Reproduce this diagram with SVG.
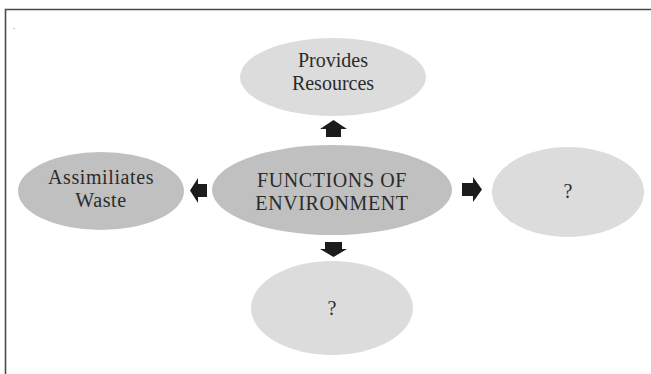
<svg xmlns="http://www.w3.org/2000/svg" width="651" height="374" viewBox="0 0 651 374">
<style>
.light{fill:#dcdcdc}
.dark{fill:#c0c0c0}
.lbl{font-family:"Liberation Serif","Times New Roman",serif;font-size:20px;fill:#2b2b2b;text-anchor:middle}
.wide{letter-spacing:0.6px}
.arr{fill:#1c1c1c}
.frame{stroke:#4a4a4a;stroke-width:1.6;fill:none}
</style>
<rect width="651" height="374" fill="#ffffff"/>
<path class="frame" d="M5.5,374 V9.5 H651"/>
<text x="13" y="29" style="font-family:'Liberation Serif',serif;font-size:8px;fill:#333">.</text>
<g id="provides">
<ellipse class="light" cx="333" cy="77" rx="93" ry="39"/>
<text class="lbl" x="333" y="67">Provides</text>
<text class="lbl" x="333" y="89.5">Resources</text>
</g>
<g id="center">
<ellipse class="dark" cx="332" cy="190" rx="120" ry="45"/>
<text class="lbl wide" x="332" y="187">FUNCTIONS OF</text>
<text class="lbl wide" x="332" y="209.5">ENVIRONMENT</text>
</g>
<g id="assimilates">
<ellipse class="dark" cx="101" cy="191" rx="83" ry="39"/>
<text class="lbl wide" x="101" y="184">Assimiliates</text>
<text class="lbl wide" x="101" y="206.5">Waste</text>
</g>
<g id="right">
<ellipse class="light" cx="568" cy="192" rx="76" ry="45"/>
<text class="lbl" x="568" y="198">?</text>
</g>
<g id="bottom">
<ellipse class="light" cx="332" cy="308" rx="81" ry="47"/>
<text class="lbl" x="332" y="315">?</text>
</g>
<g id="connectors">
<path class="arr" d="M333.5,120 L347,129 H341 V137 H326 V129 H320 Z"/>
<path class="arr" d="M190,190.5 L198,178 V184 H207 V197 H198 V203 Z"/>
<path class="arr" d="M482,189.5 L473,177 V183 H462 V196 H473 V202 Z"/>
<path class="arr" d="M333.5,257 L347,249 H342 V242 H325 V249 H320 Z"/>
</g>
</svg>
